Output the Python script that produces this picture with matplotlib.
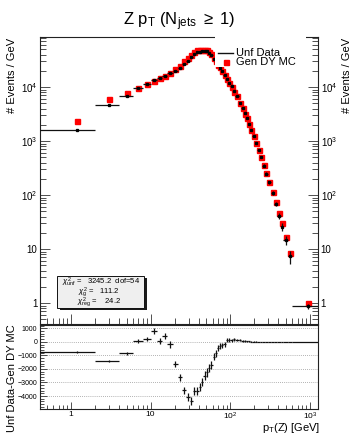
import numpy as np
import matplotlib
matplotlib.use("Agg")
import matplotlib.pyplot as plt
from matplotlib.ticker import FuncFormatter, LogLocator, MultipleLocator, NullFormatter
from matplotlib.patches import Rectangle
from matplotlib.lines import Line2D

plt.rcParams['font.family'] = ['Liberation Sans', 'DejaVu Sans']
plt.rcParams['mathtext.fontset'] = 'custom'
plt.rcParams['mathtext.rm'] = 'Liberation Sans'
plt.rcParams['mathtext.it'] = 'Liberation Sans:italic'
plt.rcParams['mathtext.bf'] = 'Liberation Sans:bold'
plt.rcParams['mathtext.sf'] = 'Liberation Sans'

# ---------------- data ----------------
bin_edges = [0.4, 2, 4, 6, 8, 10, 12, 14, 16, 19, 22, 25, 28, 31, 34, 37, 40, 43, 46, 49, 52,
             56, 60, 64, 68, 72, 76, 82, 88, 94, 100, 108, 116, 128, 138, 148, 156, 166, 176,
             188, 204, 216, 236, 250, 274, 295, 325, 355, 385, 430, 465, 535, 600, 1300]

unf_data = [1620, 4580, 6970, 9500, 11500, 13710, 14870, 16340, 18110, 20150, 22370, 26930,
            30930, 35640, 40360, 43860, 45470, 46540, 46790, 45540, 42880, 38780, 32890,
            28840, 25610, 22680, 19755, 16410, 14126, 12130, 10330, 8380, 6960, 5160, 4110,
            3260, 2690, 2070, 1620, 1250, 935, 690, 505, 352, 250, 172, 110, 69, 41, 26,
            14.7, 7.3, 0.88]

unf_err = [60, 90, 110, 150, 170, 200, 210, 230, 230, 240, 250, 270, 280, 290, 300, 310, 310,
           320, 320, 310, 290, 280, 260, 240, 220, 200, 180, 160, 150, 140, 120, 110, 90, 80,
           70, 60, 55, 50, 40, 35, 30, 25, 20, 16, 13, 10, 8, 6, 5, 4, 3, 2, 0.1]

gen_mc = [2380, 6000, 7800, 9430, 11300, 12900, 14800, 15900, 18300, 21800, 25000, 30500,
          35000, 40000, 44000, 47500, 48800, 49500, 49300, 47800, 44800, 40500, 34000, 29700,
          26100, 23000, 20000, 16600, 14000, 12000, 10230, 8200, 6840, 5010, 4030, 3200, 2650,
          2040, 1600, 1240, 930, 690, 512, 359, 257, 178, 114, 74, 46, 30, 17, 8.5, 0.99]

title = r'Z p$_{\mathrm{T}}$ (N$_{\mathrm{jets}}$ $\geq$ 1)'
chi2_lines = [r'$\chi^{2}_{\mathrm{unf}}$ =   3245.2  dof=54',
              r'$\chi^{2}_{\mathrm{g}}$ =   111.2',
              r'$\chi^{2}_{\mathrm{reg}}$ =    24.2']

# ---------------- derived ----------------
edges = np.array(bin_edges, dtype=float)
centers = 0.5 * (edges[:-1] + edges[1:])
halfw = 0.5 * (edges[1:] - edges[:-1])
data = np.array(unf_data, dtype=float)
derr = np.array(unf_err, dtype=float)
mc = np.array(gen_mc, dtype=float)
resid = data - mc

W, H = 351, 434
fx = lambda x: x / W
fy = lambda y: 1 - y / H

fig = plt.figure(figsize=(W / 100, H / 100), dpi=100)
ax = fig.add_axes([fx(40), fy(324), (318 - 40) / W, (324 - 37) / H])
axr = fig.add_axes([fx(40), fy(409), (318 - 40) / W, (409 - 325) / H])


def root_fmt(v, pos):
    e = int(round(np.log10(v)))
    if e == 0:
        return '1'
    if e == 1:
        return '10'
    return r'10$^{%d}$' % e


XLIM = (0.41, 1260)

# ---- upper pad ----
ax.plot(centers, mc, ls='none', marker='s', ms=3.6, color='red', mec='red', zorder=3)
ax.errorbar(centers, data, xerr=halfw, yerr=derr, fmt='s', ms=1.4, color='black',
            ecolor='#111111', elinewidth=0.9, capsize=0, zorder=4)
ax.set_xscale('log')
ax.set_yscale('log')
ax.set_xlim(*XLIM)
ax.set_ylim(0.41, 84400)
for a in (ax, axr):
    a.xaxis.set_major_locator(LogLocator(base=10, numticks=10))
    a.xaxis.set_minor_locator(LogLocator(base=10, subs=np.arange(2, 10), numticks=20))
    a.xaxis.set_minor_formatter(NullFormatter())
    for s in a.spines.values():
        s.set_linewidth(0.8)
        s.set_color('#222222')
ax.yaxis.set_major_locator(LogLocator(base=10, numticks=10))
ax.yaxis.set_minor_locator(LogLocator(base=10, subs=np.arange(2, 10), numticks=20))
ax.yaxis.set_minor_formatter(NullFormatter())
ax.yaxis.set_major_formatter(FuncFormatter(root_fmt))
ax.tick_params(which='both', direction='in', left=True, right=True, top=False, bottom=True,
               labelleft=True, labelright=True, labelbottom=False, width=0.6, color='#333333')
ax.tick_params(which='major', length=7)
ax.tick_params(which='minor', length=4)
ax.tick_params(axis='y', which='major', labelsize=7, pad=2)

# ---- lower pad ----
axr.errorbar(centers, resid, xerr=halfw, yerr=derr, fmt='none', ecolor='#111111',
             elinewidth=0.9, capsize=0, zorder=3)
axr.set_xscale('log')
axr.set_xlim(*XLIM)
axr.set_ylim(-4960, 1244)
axr.yaxis.set_major_locator(MultipleLocator(1000))
axr.yaxis.set_minor_locator(MultipleLocator(200))
axr.xaxis.set_major_formatter(FuncFormatter(root_fmt))
axr.grid(True, axis='y', which='major', linestyle=(0, (1, 1.5)), color='#999999', lw=0.6)
axr.tick_params(which='both', direction='in', left=True, right=False, top=False, bottom=True,
                width=0.6, color='#333333')
axr.tick_params(which='major', length=5)
axr.tick_params(which='minor', length=3)
axr.tick_params(axis='y', labelsize=5, pad=2)
axr.tick_params(axis='x', labelsize=6, pad=1.5)

# ---- texts ----
fig.text(fx(179.5), fy(25), title, ha='center', va='baseline', fontsize=12)
fig.text(fx(12), fy(38), '# Events / GeV', rotation=90, ha='center', va='top', fontsize=8)
fig.text(fx(346.5), fy(38), '# Events / GeV', rotation=90, ha='center', va='top', fontsize=8)
fig.text(fx(12), fy(324), 'Unf Data-Gen DY MC', rotation=90, ha='center', va='top', fontsize=8)
fig.text(fx(320), fy(431), r'p$_{\mathrm{T}}$(Z) [GeV]', ha='right', va='baseline', fontsize=8)

# ---- legend (white box, no border) ----
fig.add_artist(Rectangle((fx(215), fy(67)), (306 - 215) / W, (67 - 30) / H,
                         transform=fig.transFigure, facecolor='white', edgecolor='none', zorder=10))
fig.add_artist(Line2D([fx(218), fx(233)], [fy(52.5), fy(52.5)], transform=fig.transFigure,
                      color='#111111', lw=1.0, zorder=11))
fig.add_artist(Line2D([fx(225.5)], [fy(62)], transform=fig.transFigure, ls='none', marker='s',
                      ms=3.6, color='red', mec='red', zorder=11))
fig.text(fx(236), fy(52.5), 'Unf Data', ha='left', va='center', fontsize=8, zorder=12)
fig.text(fx(236), fy(62), 'Gen DY MC', ha='left', va='center', fontsize=8, zorder=12)

# ---- chi2 box ----
fig.add_artist(Rectangle((fx(59.5), fy(310)), (146.7 - 59.5) / W, (310 - 278) / H,
                         transform=fig.transFigure, facecolor='#1a1a1a', edgecolor='none', zorder=10))
fig.add_artist(Rectangle((fx(57), fy(307.5)), (144.3 - 57) / W, (307.5 - 276) / H,
                         transform=fig.transFigure, facecolor='#efefef', edgecolor='#111111',
                         lw=0.7, zorder=11))
for (xc, yc), s in zip([(101.5, 282), (99, 292), (99, 302)], chi2_lines):
    fig.text(fx(xc), fy(yc), s, ha='center', va='center', fontsize=5.5, zorder=12)

fig.savefig('out.png', dpi=100)
